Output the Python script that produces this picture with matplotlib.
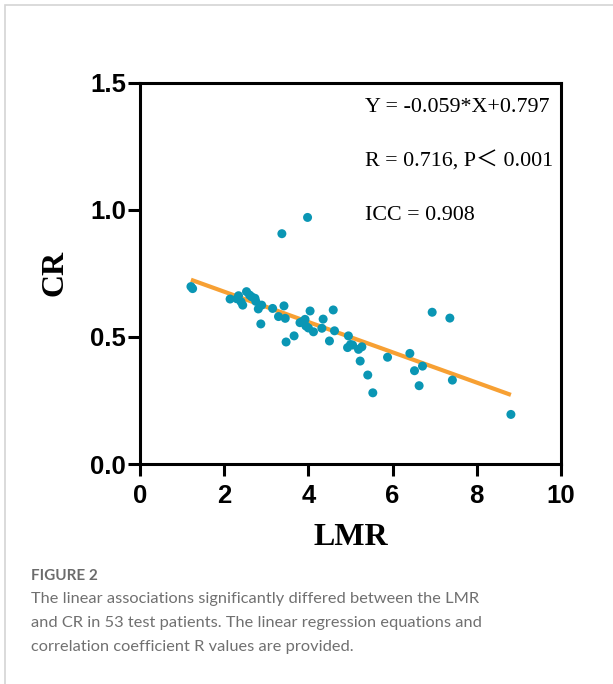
import numpy as np
import matplotlib.pyplot as plt
from matplotlib.patches import Rectangle

# LMR vs CR, 53 test patients
lmr = [1.21, 1.25, 2.14, 2.30, 2.34, 2.40, 2.44, 2.53, 2.60, 2.65,
       2.73, 2.75, 2.81, 2.87, 2.89, 3.15, 3.29, 3.37, 3.42, 3.45,
       3.47, 3.66, 3.80, 3.85, 3.92, 3.94, 3.98, 4.00, 4.04, 4.12,
       4.32, 4.35, 4.50, 4.59, 4.62, 4.93, 4.95, 5.00, 5.05, 5.19,
       5.23, 5.27, 5.41, 5.53, 5.88, 6.41, 6.52, 6.63, 6.71, 6.94,
       7.36, 7.42, 8.81]
cr = [0.698, 0.690, 0.649, 0.650, 0.662, 0.638, 0.625, 0.678, 0.665, 0.658,
      0.652, 0.640, 0.610, 0.551, 0.625, 0.612, 0.580, 0.906, 0.622, 0.573,
      0.480, 0.504, 0.556, 0.560, 0.569, 0.543, 0.970, 0.535, 0.602, 0.520,
      0.534, 0.570, 0.484, 0.606, 0.524, 0.458, 0.504, 0.470, 0.468, 0.451,
      0.405, 0.461, 0.350, 0.280, 0.420, 0.435, 0.367, 0.308, 0.385, 0.597,
      0.574, 0.330, 0.195]

slope, intercept = -0.0596, 0.797
stats_lines = ['Y = -0.059*X+0.797', 'R = 0.716, P\uff1c 0.001', 'ICC = 0.908']
xticks = [0, 2, 4, 6, 8, 10]
yticks = [0.0, 0.5, 1.0, 1.5]

caption_title = 'FIGURE 2'
caption_lines = ['The linear associations significantly differed between the LMR',
                 'and CR in 53 test patients. The linear regression equations and',
                 'correlation coefficient R values are provided.']

W, H = 613, 684
fig = plt.figure(figsize=(W / 100, H / 100), dpi=100)

# light page frame
fig.patches.append(Rectangle((5.5 / W, -0.1), 1.2, 1 - 5.5 / H + 0.1,
                             transform=fig.transFigure, fill=False,
                             edgecolor='#d4d4d4', linewidth=1.2))

ax = fig.add_axes([140 / W, 1 - 464 / H, 421 / W, 381.3 / H])

x = np.array(lmr)
xl = np.array([x.min(), x.max()])
ax.plot(xl, slope * xl + intercept, color='#F7A033', lw=3, zorder=2,
        solid_capstyle='butt')
ax.scatter(x, cr, s=42, color='#0A96B4', edgecolors='none', zorder=3)

ax.set_xlim(0, 10)
ax.set_ylim(0, 1.5)
ax.set_xticks(xticks)
ax.set_yticks(yticks)
ax.set_xticklabels([str(t) for t in xticks])
ax.set_yticklabels([f'{t:.1f}' for t in yticks])
for s in ax.spines.values():
    s.set_linewidth(2.2)
ax.tick_params(width=2.2, length=8.5, labelsize=18.5)
ax.tick_params(axis='y', pad=1.5)
ax.tick_params(axis='x', pad=6)
for lab in ax.get_xticklabels() + ax.get_yticklabels():
    lab.set_fontfamily('Liberation Sans')
    lab.set_fontweight('bold')

ax.set_xlabel('LMR', family='Liberation Serif', fontweight='bold', fontsize=23)
ax.set_ylabel('CR', family='Liberation Serif', fontweight='bold', fontsize=23)
ax.xaxis.set_label_coords(0.5, -0.155)
ax.yaxis.set_label_coords(-0.168, 0.5)

for i, line in enumerate(stats_lines):
    ax.text(0.534, 0.934 - i * 0.1415, line, transform=ax.transAxes,
            family=['Liberation Serif', 'Noto Sans CJK SC'], fontsize=15.8,
            va='center', ha='left')

fig.text(31 / W, 1 - 576 / H, caption_title, family='Lato',
         fontsize=11, fontweight='bold', color='#6b6b6b', va='center')
for i, line in enumerate(caption_lines):
    fig.text(31 / W, 1 - (599 + 24 * i) / H, line, family='Lato',
             fontsize=11.8, color='#707070', va='center')

fig.savefig('out.png', dpi=100)
